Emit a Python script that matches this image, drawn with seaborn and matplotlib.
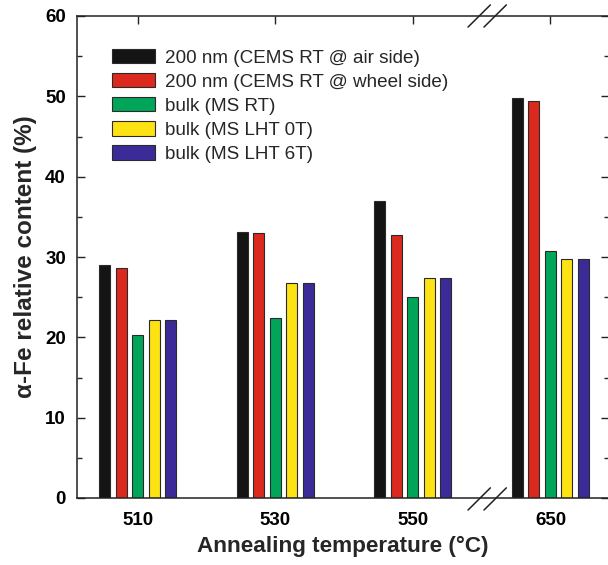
import matplotlib
matplotlib.use("Agg")
import matplotlib.pyplot as plt
import seaborn as sns
import pandas as pd
from matplotlib.ticker import MultipleLocator

temps = ["510", "530", "550", "650"]
series = [
    "200 nm (CEMS RT @ air side)",
    "200 nm (CEMS RT @ wheel side)",
    "bulk (MS RT)",
    "bulk (MS LHT 0T)",
    "bulk (MS LHT 6T)",
]
air_side = [29.0, 33.1, 37.0, 49.8]
wheel_side = [28.6, 33.0, 32.7, 49.4]
ms_rt = [20.3, 22.4, 25.0, 30.8]
lht_0t = [22.1, 26.8, 27.4, 29.8]
lht_6t = [22.1, 26.8, 27.4, 29.8]
colors = ["#141414", "#dc291e", "#00a55a", "#fde314", "#3b2b99"]

values = [air_side, wheel_side, ms_rt, lht_0t, lht_6t]
rows = []
for s, vals in zip(series, values):
    for t, v in zip(temps, vals):
        rows.append({"temp": t, "series": s, "value": v})
df = pd.DataFrame(rows)

sns.set_style("ticks")
plt.rcParams["font.family"] = ["Liberation Sans", "DejaVu Sans"]

fig = plt.figure(figsize=(6.08, 5.65), dpi=100)
ax = fig.add_axes([77 / 608, 1 - 498 / 565, 532 / 608, 482 / 565])

sns.barplot(data=df, x="temp", y="value", hue="series", order=temps,
            hue_order=series, palette=colors, width=0.6, gap=1 / 3,
            edgecolor="#2a2a2a", linewidth=0.8, saturation=1, ax=ax)

ax.set_xlim(-0.4436, 3.4255)
ax.set_ylim(0, 60)
ax.yaxis.set_major_locator(MultipleLocator(10))
ax.yaxis.set_minor_locator(MultipleLocator(5))

for sp in ax.spines.values():
    sp.set_visible(True)
    sp.set_linewidth(1.1)
    sp.set_color("#222222")

ax.tick_params(axis="y", which="major", direction="in", length=6, width=1,
               left=True, right=True, labelsize=13.5, pad=8, colors="#222222")
ax.tick_params(axis="y", which="minor", direction="in", length=3.5, width=1,
               left=True, right=True)
ax.tick_params(axis="x", which="major", direction="in", length=6, width=1,
               bottom=False, top=True, labelsize=13.5, pad=10, colors="#222222")
for lab in ax.get_xticklabels() + ax.get_yticklabels():
    lab.set_fontweight("bold")
    lab.set_color("black")

ax.set_xlabel("Annealing temperature (°C)", fontsize=16.2, fontweight="bold", labelpad=5)
ax.set_ylabel("α-Fe relative content (%)", fontsize=17.5, fontweight="bold", labelpad=6)

# axis break marks
for x0 in (0.735, 0.765):
    for y0 in (-0.025, 0.977):
        ax.plot([x0, x0 + 0.042], [y0, y0 + 0.046], transform=ax.transAxes,
                color="#222222", lw=1.1, clip_on=False)

handles, labels = ax.get_legend_handles_labels()
leg = ax.legend(handles, labels, loc="upper left", bbox_to_anchor=(35 / 532, 1 - 33 / 482),
                frameon=False, fontsize=13.6, handlelength=2.3, handleheight=0.8,
                handletextpad=0.5, labelspacing=0.33, borderpad=0, borderaxespad=0)

fig.savefig("out.png", dpi=100)
